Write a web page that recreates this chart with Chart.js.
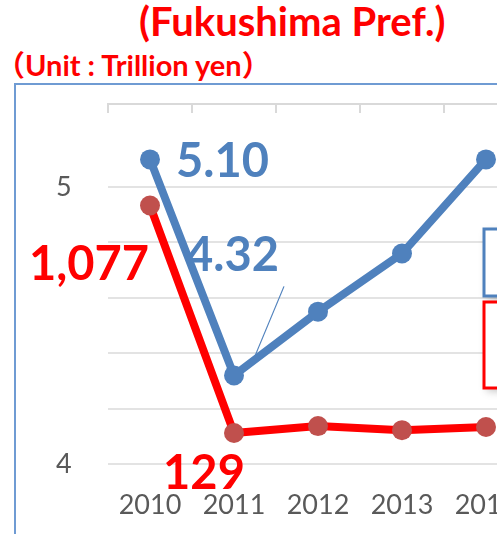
<!DOCTYPE html>
<html>
<head>
<meta charset="utf-8">
<script src="https://cdn.jsdelivr.net/npm/chart.js@4.4.1/dist/chart.umd.min.js"></script>
<style>
  body { margin: 0; width: 497px; height: 534px; overflow: hidden; background: #fff; position: relative; font-family: Lato, "Noto Sans CJK JP", sans-serif; }
  #title { position: absolute; left: 139px; top: -3px; font-size: 40px; font-weight: bold; color: #ff0000; white-space: nowrap; }
  #unit { position: absolute; left: -4px; top: 42px; font-size: 29px; font-weight: bold; color: #ff0000; white-space: nowrap; }
  #box { position: absolute; left: 14px; top: 83px; width: 600px; height: 470px; border-left: 2px solid #6f9bd3; border-top: 2px solid #6f9bd3; }
  #wrap { position: absolute; left: 0; top: 0; width: 540px; height: 451px; }
</style>
</head>
<body>
<div id="title">(Fukushima Pref.)</div>
<div id="unit">（Unit : Trillion yen）</div>
<div id="box"><div id="wrap"><canvas id="chart"></canvas></div></div>
<script>
var years = ["2010", "2011", "2012", "2013", "2014"];
var output = [5.10, 4.32, 4.55, 4.76, 5.10];      // trillion yen, blue
var redValues = [1077, 129, 158, 141, 154];        // red series, hidden right axis
var outputLabels = ["5.10", "4.32"];
var redLabels = ["1,077", "129"];

var blue = "#4f81bd";
var red = "#ff0000";
var gray = "#595959";
var gridGray = "#e3e3e3";

// data labels, leader line and the clipped legend boxes
var labelPlugin = {
  id: "labels",
  afterDatasetsDraw: function(chart) {
    var ctx = chart.ctx;
    var b = chart.getDatasetMeta(0).data;
    var r = chart.getDatasetMeta(1).data;
    ctx.save();
    ctx.font = "bold 47px Lato";
    ctx.textBaseline = "middle";

    ctx.fillStyle = blue;
    ctx.textAlign = "left";
    ctx.fillText(outputLabels[0], b[0].x + 26, b[0].y + 2);
    ctx.fillText(outputLabels[1], b[1].x - 48, b[1].y - 120);

    ctx.strokeStyle = blue;
    ctx.lineWidth = 1.2;
    ctx.beginPath();
    ctx.moveTo(b[1].x + 50, b[1].y - 89);
    ctx.lineTo(b[1].x + 20, b[1].y - 17);
    ctx.stroke();

    ctx.fillStyle = red;
    ctx.textAlign = "right";
    ctx.fillText(redLabels[0], b[0].x - 1, r[0].y + 59);
    ctx.textAlign = "center";
    ctx.fillText(redLabels[1], r[1].x - 30, r[1].y + 41);

    // legend boxes (cut off by the right edge)
    var lx = chart.chartArea.right - 44;
    ctx.lineWidth = 3;
    ctx.fillStyle = "#fff";
    ctx.shadowColor = "rgba(0,0,0,0.25)";
    ctx.shadowBlur = 8;
    ctx.shadowOffsetX = 3;
    ctx.shadowOffsetY = 3;
    ctx.fillRect(lx, 144, 80, 67);
    ctx.fillRect(lx, 217, 80, 86);
    ctx.shadowColor = "transparent";
    ctx.strokeStyle = blue;
    ctx.strokeRect(lx, 144, 80, 67);
    ctx.strokeStyle = red;
    ctx.strokeRect(lx, 217, 80, 86);
    ctx.restore();
  }
};

new Chart(document.getElementById("chart"), {
  type: "line",
  data: {
    labels: years,
    datasets: [
      {
        label: "Output",
        data: output,
        yAxisID: "y",
        borderColor: blue,
        backgroundColor: blue,
        borderWidth: 8,
        pointRadius: 10,
        pointBorderWidth: 0,
        pointBackgroundColor: blue,
        tension: 0
      },
      {
        label: "Red series",
        data: redValues,
        yAxisID: "y1",
        borderColor: red,
        backgroundColor: "#c0504d",
        borderWidth: 8,
        pointRadius: 10,
        pointBorderWidth: 0,
        pointBackgroundColor: "#c0504d",
        tension: 0
      }
    ]
  },
  options: {
    responsive: true,
    maintainAspectRatio: false,
    animation: false,
    layout: { padding: { left: 40, top: 0, right: 28, bottom: 0 } },
    plugins: {
      legend: { display: false },
      tooltip: { enabled: false }
    },
    scales: {
      x: {
        offset: true,
        grid: { display: false },
        border: { display: false },
        ticks: { color: gray, font: { family: "Lato", size: 27 }, padding: 17, maxRotation: 0 },
        afterFit: function(s) { s.height = 72; }
      },
      x2: {
        type: "category",
        position: "top",
        offset: true,
        grid: { offset: true, drawOnChartArea: false, drawTicks: true, tickLength: -9, color: "#d9d9d9", lineWidth: 2 },
        border: { display: true, color: "#d9d9d9", width: 2 },
        ticks: { display: false },
        afterFit: function(s) { s.height = 19; }
      },
      y: {
        min: 4,
        max: 5.3,
        ticks: {
          stepSize: 0.2,
          color: gray,
          font: { family: "Lato", size: 27 },
          padding: 0,
          crossAlign: "far",
          callback: function(v) { return (Math.abs(v - 4) < 1e-6 || Math.abs(v - 5) < 1e-6) ? String(Math.round(v)) : ""; }
        },
        grid: { color: gridGray, lineWidth: 2, drawTicks: false },
        border: { display: false },
        afterFit: function(s) { s.width = 52; }
      },
      y1: {
        display: false,
        position: "right",
        min: 0,
        max: 1500
      }
    }
  },
  plugins: [labelPlugin]
});
</script>
</body>
</html>
